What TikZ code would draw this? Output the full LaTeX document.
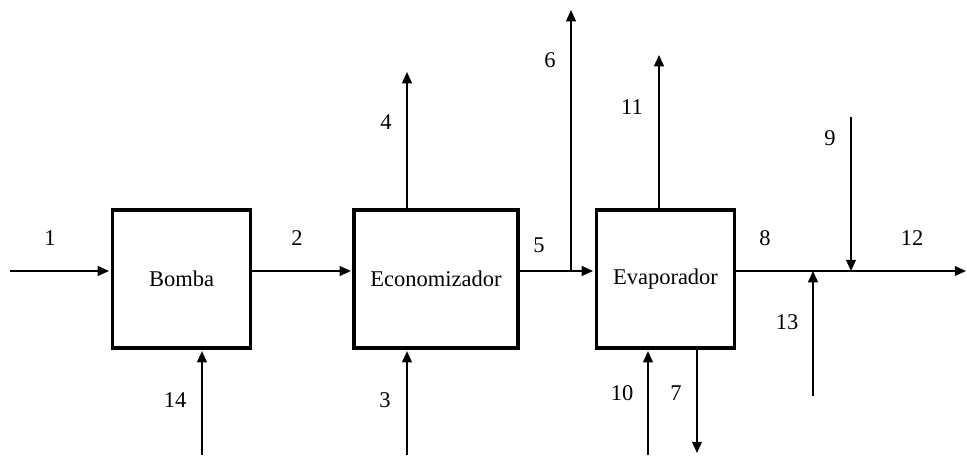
\documentclass[tikz,border=0pt]{standalone}
\usepackage{fontspec}
\setmainfont{Liberation Serif}
\usetikzlibrary{arrows.meta}

\begin{document}
\begin{tikzpicture}[x=0.025cm, y=-0.025cm, >={Triangle[length=8pt, width=7pt]}, line width=1pt,
  unit/.style={draw, line width=2.2pt, minimum height=3.45cm, font=\fontsize{16}{18}\selectfont},
  flow/.style={->},
  inflow/.style={->, shorten >=1.1pt},
  lbl/.style={font=\fontsize{16}{18}\selectfont}]
\useasboundingbox (0,0) rectangle (967,455);

% Units
\node[unit, minimum width=3.47cm] (bomba) at (181.5,279) {Bomba};
\node[unit, minimum width=4.1cm] (econ) at (436,279) {Economizador};
\node[unit, minimum width=3.47cm] (evap) at (665.5,279) {Evaporador};

% Free ends and junctions
\coordinate (in1) at (10,271);
\coordinate (out12) at (966,271);
\coordinate (top4) at (407,72);
\coordinate (top6) at (571,10);
\coordinate (top11) at (659,55);
\coordinate (bot14) at (202,455);
\coordinate (bot3) at (407,455);
\coordinate (bot10) at (648,455);
\coordinate (bot7) at (697,453);
\coordinate (src9) at (851,117);
\coordinate (src13) at (813,396);
\coordinate (split6) at (571,271);
\coordinate (mix13) at (813,271);
\coordinate (mix9) at (851,271);

% Main line
\draw[inflow] (in1) -- (in1 -| bomba.west);
\draw[inflow] (bomba.east |- in1) -- (econ.west |- in1);
\draw[inflow] (econ.east |- in1) -- (evap.west |- in1);
\draw[flow] (evap.east |- in1) -- (out12);

% Side streams
\draw[inflow] (bot14) -- (bot14 |- bomba.south);
\draw[inflow] (bot3) -- (bot3 |- econ.south);
\draw[flow] (top4 |- econ.north) -- (top4);
\draw[flow] (split6) -- (top6);
\draw[flow] (top11 |- evap.north) -- (top11);
\draw[inflow] (bot10) -- (bot10 |- evap.south);
\draw[flow] (bot7 |- evap.south) -- (bot7);
\draw[flow] (src9) -- (mix9);
\draw[flow] (src13) -- (mix13);

% Stream numbers
\node[lbl] (l1) at (50,238) {1};
\node[lbl] (l2) at (297,238) {2};
\node[lbl] (l3) at (385,400) {3};
\node[lbl] (l4) at (386,122) {4};
\node[lbl] (l5) at (539,245) {5};
\node[lbl] (l6) at (550,60) {6};
\node[lbl] (l7) at (676,393) {7};
\node[lbl] (l8) at (765,238) {8};
\node[lbl] (l9) at (830,138) {9};
\node[lbl] (l10) at (622,393) {10};
\node[lbl] (l11) at (632,107) {11};
\node[lbl] (l12) at (912,238) {12};
\node[lbl] (l13) at (787,322) {13};
\node[lbl] (l14) at (175,400) {14};

\end{tikzpicture}
\end{document}
